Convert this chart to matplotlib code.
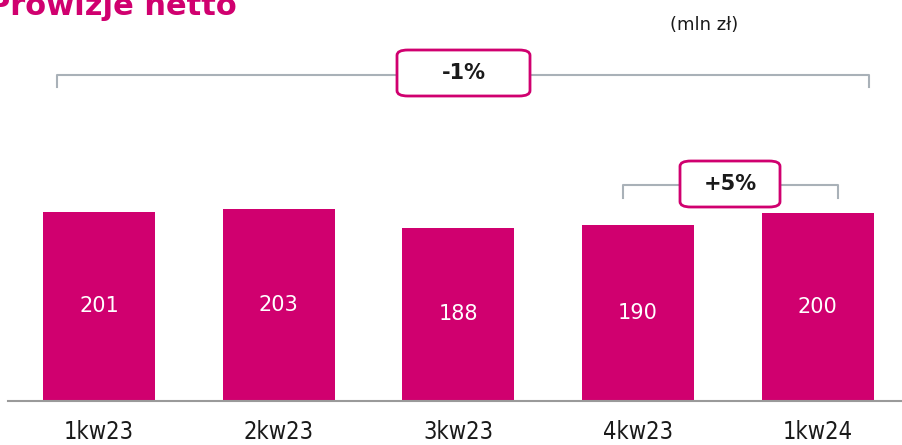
import matplotlib.pyplot as plt
from matplotlib.patches import FancyBboxPatch

# Data
quarters = ["1kw23", "2kw23", "3kw23", "4kw23", "1kw24"]
values = [201, 203, 188, 190, 200]
total_change = "-1%"
last_change = "+5%"

MAGENTA = "#D0006F"
GREY = "#A9B1B8"


def main():
    """Draw the net commissions bar chart."""
    fig = plt.figure(figsize=(9.02, 4.45), dpi=100)
    ax = fig.add_axes([8 / 902, 44 / 445, 894 / 902, 401 / 445])

    x = list(range(len(quarters)))
    ax.bar(x, values, width=0.624, color=MAGENTA, zorder=2)

    ax.set_xlim(-0.507, 4.47)
    ax.set_ylim(47, 373)
    y0 = ax.get_ylim()[0]

    # Values inside bars
    for xi, v in zip(x, values):
        ax.text(xi, (v + y0) / 2, str(v), ha="center", va="center",
                color="white", fontsize=15)

    # Axis styling
    for side in ["top", "right", "left"]:
        ax.spines[side].set_visible(False)
    ax.spines["bottom"].set_color("#9A9A9A")
    ax.spines["bottom"].set_linewidth(1.5)
    ax.set_yticks([])
    ax.set_xticks(x)
    ax.set_xticklabels(quarters, fontsize=17, color="#1A1A1A",
                       family="DejaVu Sans", fontstretch="condensed")
    ax.tick_params(axis="x", length=0, pad=14)

    # Brackets with change boxes (in pixel coordinates of the figure)
    def px(xp, yp):
        return xp / 902, 1 - yp / 445

    def bracket(x1, x2, y, drop, bx1, bx2, by1, by2, label):
        xs = [x1, x1, x2, x2]
        ys = [y + drop, y, y, y + drop]
        fig.lines.append(plt.Line2D([px(a, b)[0] for a, b in zip(xs, ys)],
                                    [px(a, b)[1] for a, b in zip(xs, ys)],
                                    transform=fig.transFigure, color=GREY,
                                    linewidth=1.5, zorder=1))
        left, top = px(bx1, by1)
        right, bottom = px(bx2, by2)
        box = FancyBboxPatch((left, bottom), right - left, top - bottom,
                             boxstyle="round,pad=0,rounding_size=0.012",
                             transform=fig.transFigure, facecolor="white",
                             edgecolor=MAGENTA, linewidth=2, zorder=3)
        fig.patches.append(box)
        fig.text((left + right) / 2, (top + bottom) / 2, label, ha="center",
                 va="center", fontsize=15, fontweight="bold", color="#1A1A1A",
                 zorder=4)

    bracket(57, 869, 75, 12, 397, 530, 50, 96, total_change)
    bracket(623, 838, 185, 13, 680, 780, 161, 207, last_change)

    # Title and unit
    fig.text(-12 / 902, 1 - 15 / 445, "Prowizje netto", ha="left",
             va="baseline", fontsize=22, fontweight="bold", color=MAGENTA)
    fig.text(704 / 902, 1 - 25 / 445, "(mln zł)", ha="center", va="center",
             fontsize=13, color="#1A1A1A")

    fig.savefig("out.png", dpi=100)


if __name__ == "__main__":
    main()
